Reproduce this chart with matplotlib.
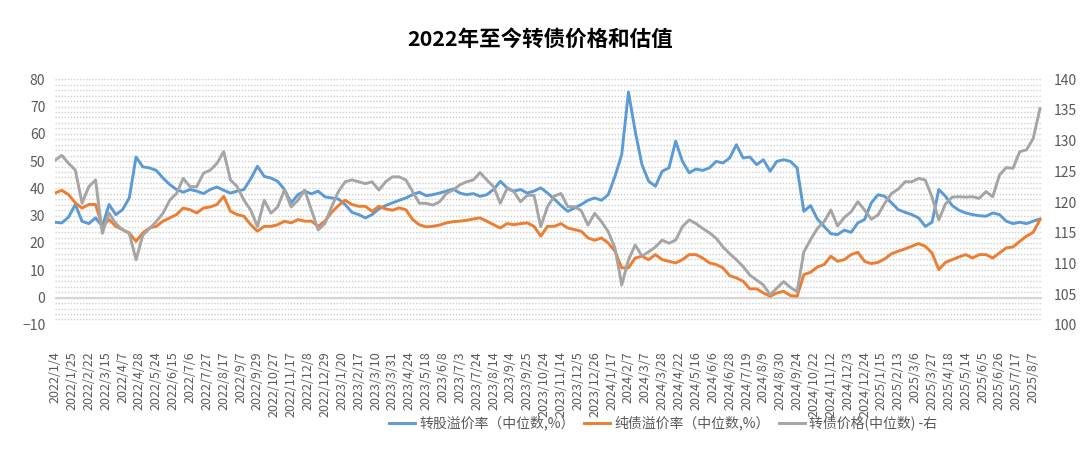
import matplotlib
matplotlib.use("Agg")
import matplotlib.pyplot as plt
import numpy as np

plt.rcParams['font.family'] = ['Noto Sans CJK SC', 'DejaVu Sans']

# weekly-ish samples (every 6 trading days since 2022/1/4)
days = np.arange(147) * 6

tick_labels = [
    "2022/1/4", "2022/1/25", "2022/2/22", "2022/3/15", "2022/4/7", "2022/4/28",
    "2022/5/24", "2022/6/15", "2022/7/6", "2022/7/27", "2022/8/17", "2022/9/7",
    "2022/9/29", "2022/10/27", "2022/11/17", "2022/12/8", "2022/12/29", "2023/1/20",
    "2023/2/17", "2023/3/10", "2023/3/31", "2023/4/24", "2023/5/18", "2023/6/8",
    "2023/7/3", "2023/7/24", "2023/8/14", "2023/9/4", "2023/9/25", "2023/10/24",
    "2023/11/14", "2023/12/5", "2023/12/26", "2024/1/17", "2024/2/7", "2024/3/7",
    "2024/3/28", "2024/4/22", "2024/5/16", "2024/6/6", "2024/6/28", "2024/7/19",
    "2024/8/9", "2024/8/30", "2024/9/24", "2024/10/22", "2024/11/12", "2024/12/3",
    "2024/12/24", "2025/1/15", "2025/2/13", "2025/3/6", "2025/3/27", "2025/4/18",
    "2025/5/14", "2025/6/5", "2025/6/26", "2025/7/17", "2025/8/7",
]
tick_step = 15

conv_premium = [
    27.6, 27.35, 29.5, 34.1, 27.95, 27.1, 29.2, 26.1, 34.1, 30.4,
    32.2, 36.5, 51.5, 47.9, 47.5, 46.6, 43.8, 41.4, 39.6, 38.6,
    39.6, 39.0, 38.1, 39.6, 40.5, 39.3, 38.3, 39.0, 39.6, 43.5,
    48.1, 44.4, 43.8, 42.6, 39.6, 34.7, 37.7, 39.0, 38.0, 39.0,
    36.9, 36.5, 36.1, 34.1, 31.25, 30.4, 29.2, 30.4, 32.5, 33.7,
    34.7, 35.6, 36.5, 37.7, 38.6, 37.35, 37.7, 38.3, 39.0, 39.8,
    38.3, 37.7, 38.1, 37.1, 37.7, 39.6, 42.6, 40.2, 39.0, 39.6,
    38.3, 39.0, 40.2, 38.3, 36.1, 33.7, 31.6, 32.85, 34.1, 35.65,
    36.5, 35.65, 37.7, 44.4, 52.4, 75.3, 60.9, 48.7, 42.6, 40.8,
    46.3, 47.5, 57.3, 49.9, 45.7, 47.1, 46.6, 47.5, 49.9, 49.3,
    51.15, 56.0, 51.15, 51.5, 48.7, 50.5, 46.3, 49.9, 50.5, 49.9,
    47.5, 31.6, 33.7, 28.8, 26.1, 23.4, 23.1, 24.7, 23.9, 27.35,
    28.6, 34.7, 37.7, 37.1, 34.7, 32.2, 31.25, 30.4, 29.2, 26.1,
    27.6, 39.6, 37.1, 33.7, 32.0, 31.0, 30.4, 30.0, 29.8, 31.0,
    30.4, 28.0, 27.1, 27.6, 27.1, 28.0, 28.8,
]

bond_premium = [
    38.3, 39.3, 37.7, 34.7, 32.8, 34.1, 34.1, 26.1, 28.6, 26.1,
    24.9, 23.7, 20.6, 23.7, 25.5, 26.1, 28.0, 29.2, 30.4, 32.8,
    32.2, 31.0, 32.8, 33.2, 34.1, 37.1, 31.6, 30.4, 29.8, 26.7,
    24.3, 26.1, 26.1, 26.7, 28.0, 27.35, 28.6, 28.0, 28.0, 26.1,
    28.0, 31.25, 33.7, 35.65, 34.1, 33.45, 33.45, 31.6, 33.45, 32.5,
    32.0, 32.85, 32.2, 28.6, 26.7, 25.9, 26.1, 26.6, 27.35, 27.8,
    28.0, 28.3, 28.8, 29.2, 28.0, 26.7, 25.5, 27.1, 26.7, 27.1,
    27.35, 26.1, 22.5, 26.1, 26.1, 27.1, 25.5, 24.9, 24.3, 21.85,
    21.0, 21.85, 20.0, 17.0, 10.9, 10.9, 14.5, 15.15, 13.9, 15.75,
    13.9, 13.3, 12.7, 13.9, 15.75, 15.75, 14.5, 12.7, 12.1, 10.9,
    8.05, 7.2, 6.0, 3.2, 3.2, 1.7, 0.5, 1.7, 2.3, 0.75,
    0.5, 8.4, 9.3, 11.2, 12.1, 15.15, 13.3, 13.9, 15.75, 16.6,
    13.3, 12.45, 12.9, 14.2, 16.1, 17.0, 17.85, 18.8, 19.8, 18.8,
    16.35, 10.25, 12.9, 13.9, 14.9, 15.75, 14.5, 15.75, 15.75, 14.5,
    16.35, 18.2, 18.55, 20.6, 22.5, 23.9, 28.5,
]

cb_price = [
    126.8, 127.6, 126.3, 125.2, 119.8, 122.5, 123.6, 114.9, 118.2, 116.5,
    115.5, 114.9, 110.6, 114.6, 115.7, 116.8, 118.2, 120.3, 121.4, 123.85,
    122.5, 122.5, 124.7, 125.2, 126.3, 128.2, 123.6, 122.5, 120.3, 118.7,
    116.0, 120.3, 118.2, 119.2, 122.0, 119.2, 120.3, 121.95, 118.7, 115.45,
    116.5, 119.25, 121.7, 123.3, 123.6, 123.3, 123.0, 123.3, 121.95, 123.3,
    124.1, 124.1, 123.6, 121.7, 119.8, 119.8, 119.5, 120.05, 121.4, 121.95,
    122.8, 123.3, 123.6, 124.8, 123.6, 122.5, 119.8, 122.2, 121.7, 120.05,
    121.1, 121.1, 116.0, 119.25, 120.98, 121.4, 119.25, 119.25, 118.6, 116.26,
    118.16, 116.8, 115.2, 112.5, 106.5, 110.6, 113.0, 111.2, 111.9, 112.7,
    113.8, 113.3, 113.8, 116.0, 117.1, 116.5, 115.7, 115.0, 114.1, 112.7,
    111.6, 110.6, 109.5, 108.1, 107.3, 106.5, 104.9, 106.0, 107.05, 106.1,
    105.4, 111.9, 113.9, 115.7, 116.8, 118.7, 116.1, 117.5, 118.4, 120.05,
    118.7, 117.2, 117.9, 119.8, 121.4, 122.1, 123.3, 123.3, 123.85, 123.6,
    120.8, 117.1, 119.7, 120.8, 120.87, 120.8, 120.87, 120.6, 121.7, 120.87,
    124.4, 125.6, 125.5, 128.2, 128.5, 130.35, 135.2,
]

fig = plt.figure(figsize=(10.8, 4.5), dpi=100)
ax = fig.add_axes([0.051, 0.278, 0.914, 0.546])
ax2 = ax.twinx()

l1, = ax.plot(days, conv_premium, color='#5B9BD5', lw=2.1, label='转股溢价率（中位数,%）')
l2, = ax.plot(days, bond_premium, color='#ED7D31', lw=2.1, label='纯债溢价率（中位数,%）')
l3, = ax2.plot(days, cb_price, color='#A5A5A5', lw=2.1, label='转债价格(中位数) -右')

ax.set_xlim(0, 878)
ax.set_ylim(-10, 80)
ax2.set_ylim(100, 140)
ax.set_yticks(np.arange(-10, 81, 10))
ax2.set_yticks(np.arange(100, 141, 5))
ax.set_yticks(np.arange(-10, 81, 2), minor=True)
ax.grid(True, which='both', axis='y', linestyle=(0, (1, 1.2)), color='#CFCFCF', lw=1.0)
ax.axhline(0, color='#D9D9D9', lw=1.6, zorder=1)

ax.set_xticks(np.arange(len(tick_labels)) * tick_step)
ax.set_xticklabels(tick_labels, rotation=90)

for a in (ax, ax2):
    for s in a.spines.values():
        s.set_visible(False)
ax.tick_params(axis='x', length=0, pad=19, labelsize=9, colors='#595959')
ax.tick_params(axis='y', which='both', length=0, pad=7, labelsize=10, colors='#595959')
ax2.tick_params(axis='y', length=0, pad=8, labelsize=10, colors='#595959')

fig.suptitle('2022年至今转债价格和估值', x=0.5, y=0.935, fontsize=15.5, fontweight='bold', color='#000000')

fig.legend(handles=[l1, l2, l3], loc='center', bbox_to_anchor=(0.614, 0.06), ncol=3,
           frameon=False, fontsize=10, handlelength=1.9, handletextpad=0.3,
           columnspacing=0.65, labelcolor='#595959')

fig.savefig('out.png', dpi=100)
